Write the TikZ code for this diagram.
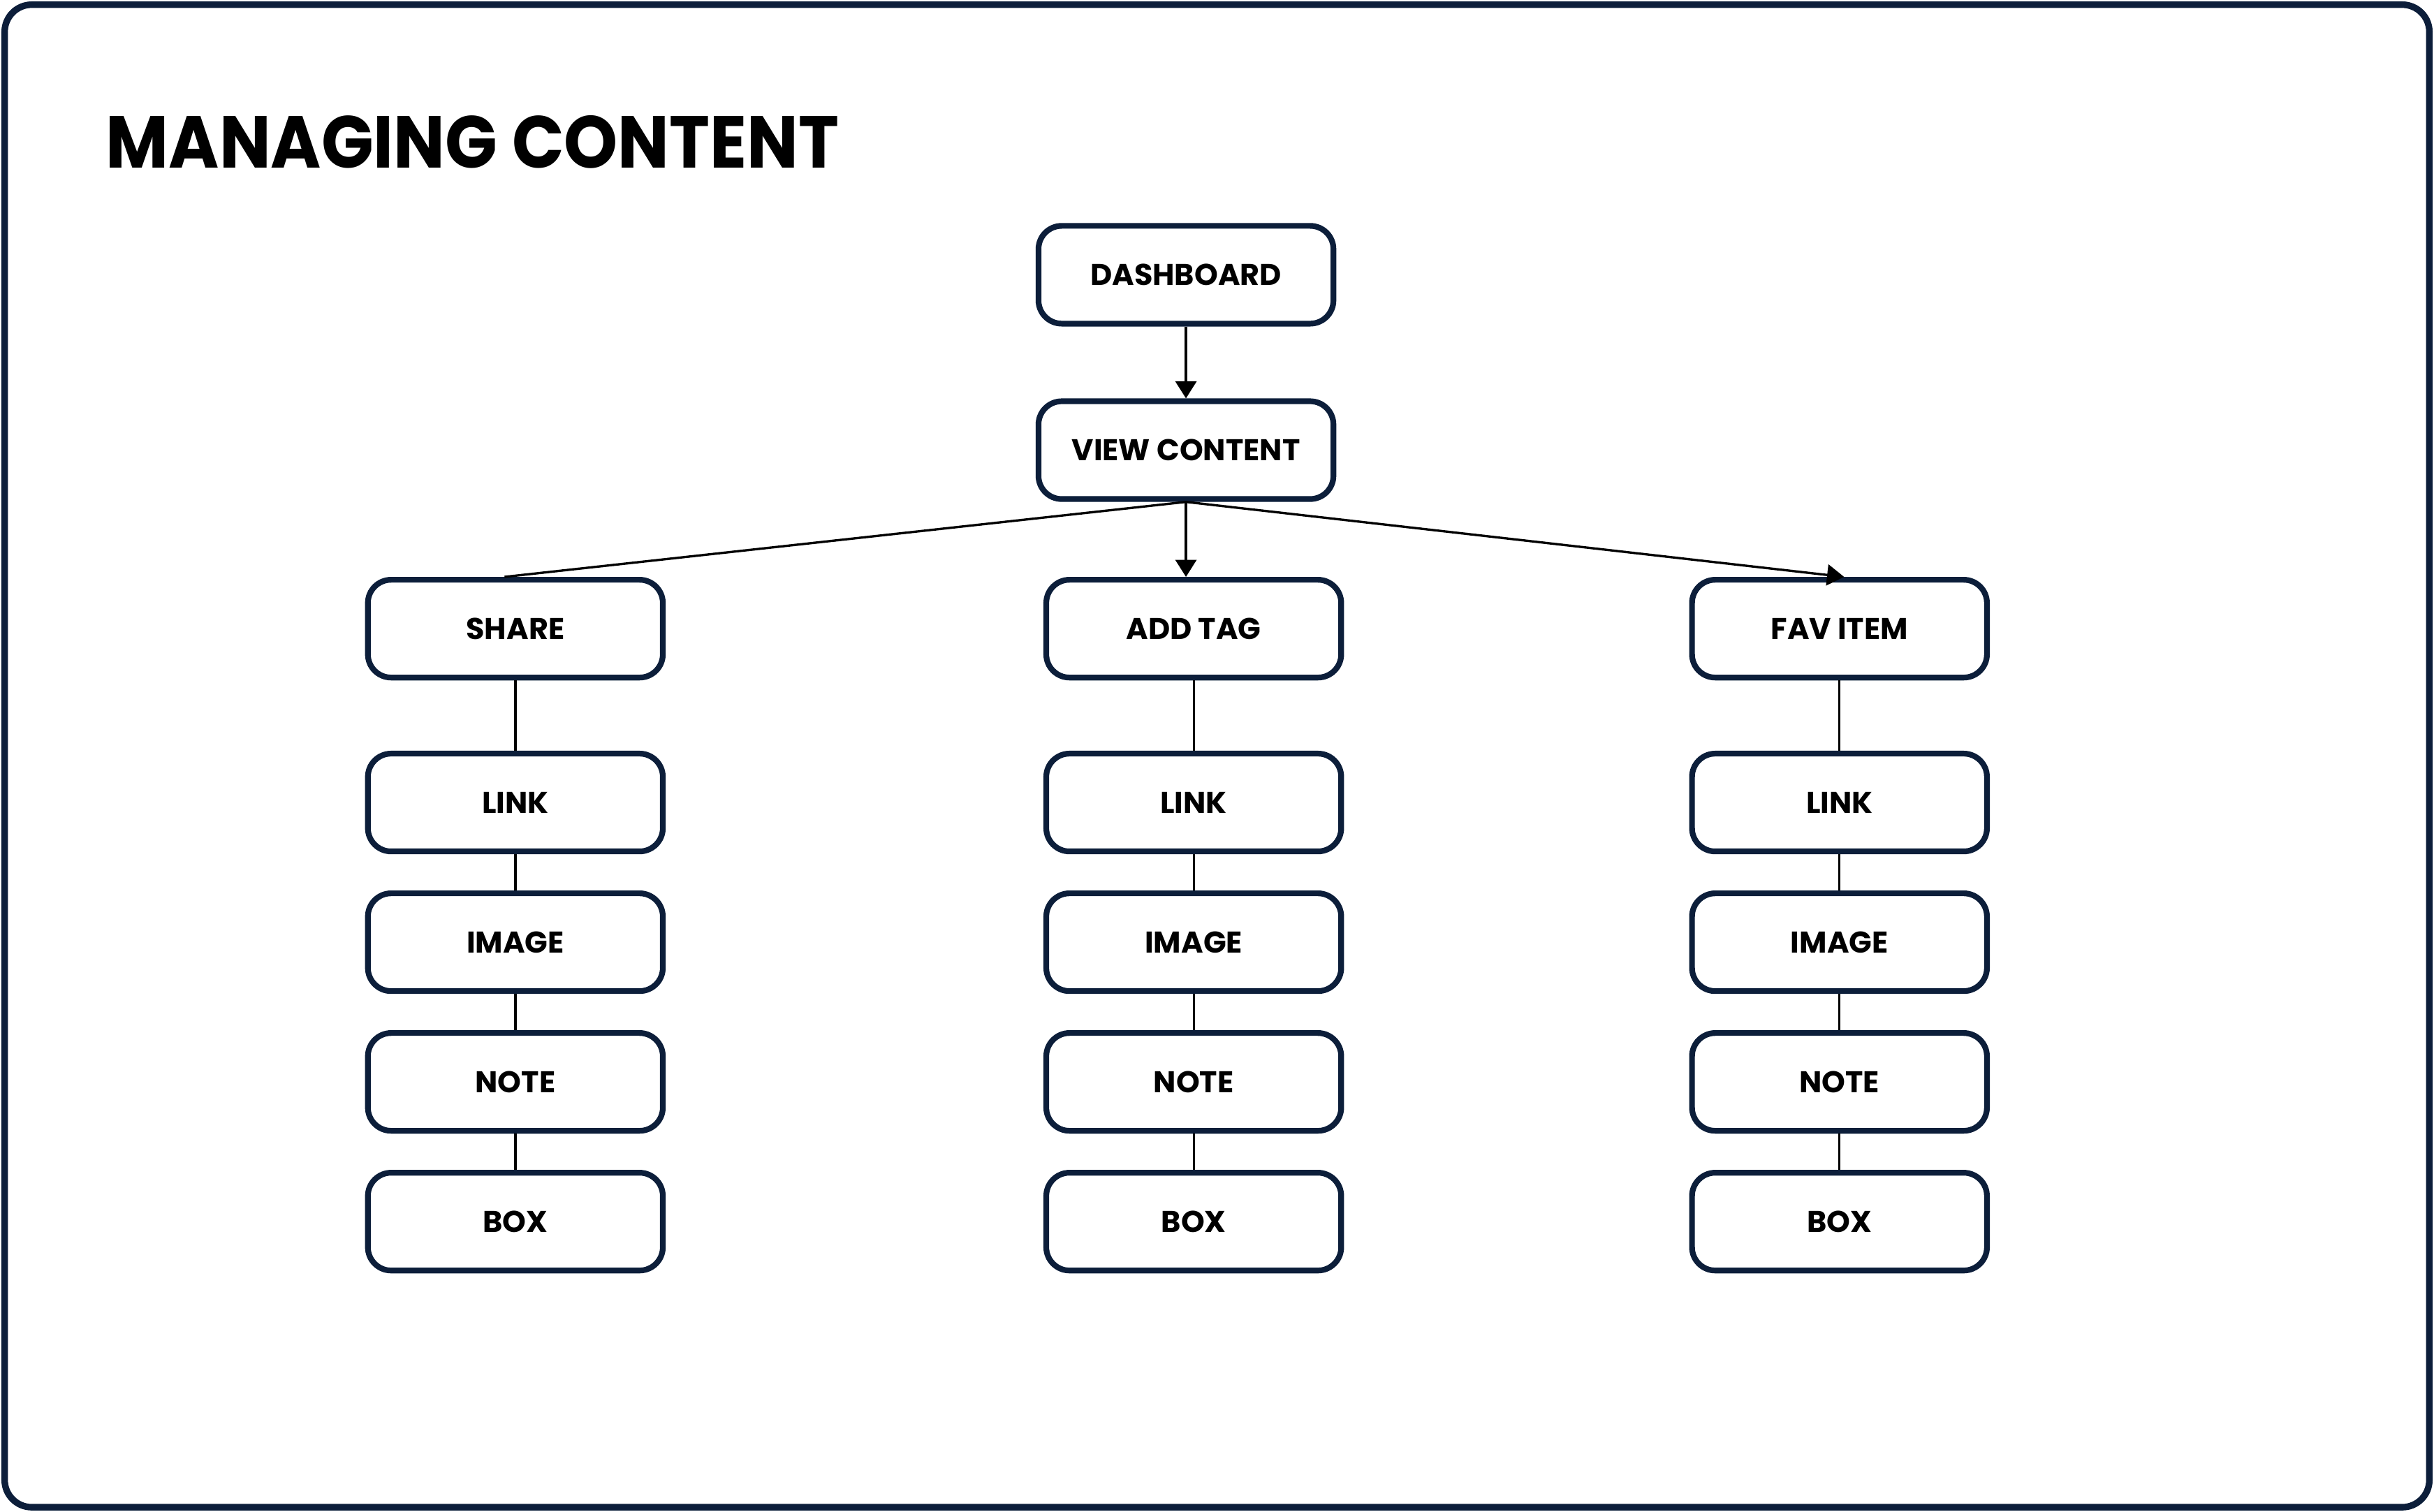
\documentclass[tikz,border=0pt]{standalone}
\usepackage{fontspec}
\setmainfont{Poppins}
\usetikzlibrary{arrows.meta}
\definecolor{navy}{RGB}{12,30,58}
\tikzset{
  itembox/.style={draw=navy, line width=2.1pt, rounded corners=0.3cm, fill=white,
    minimum width=3.8cm, minimum height=1.26cm, font=\bfseries\fontsize{11}{13}\selectfont},
  link/.style={line width=0.85pt, black},
  arrow/.style={link, -{Triangle[length=0.22cm,width=0.27cm]}}
}
\begin{document}
\begin{tikzpicture}[x=0.2mm, y=-0.2mm]
	\useasboundingbox (0,0) rectangle (1568,974);
	\draw[navy, line width=2.4pt, rounded corners=0.35cm] (3,3) rectangle (1565,971);
	\node[anchor=base west, inner sep=0pt, xscale=0.93, transform shape, font=\bfseries\fontsize{27}{30}\selectfont] (title) at (68,108) {MANAGING CONTENT};

	\node[itembox] (dash) at (764,177) {DASHBOARD};
	\node[itembox] (view) at (764,290) {VIEW CONTENT};
	\node[itembox] (share) at (332,405) {SHARE};
	\node[itembox] (addtag) at (769,405) {ADD TAG};
	\node[itembox] (fav) at (1185,405) {FAV ITEM};

	\foreach \c/\x in {share/332, addtag/769, fav/1185}
	  {
	      \node[itembox] (\c-link) at (\x,517) {LINK};
	      \node[itembox] (\c-image) at (\x,607) {IMAGE};
	      \node[itembox] (\c-note) at (\x,697) {NOTE};
	      \node[itembox] (\c-box) at (\x,787) {BOX};
	      \draw[link] (\c) -- (\c-link);
	      \draw[link] (\c-link) -- (\c-image);
	      \draw[link] (\c-image) -- (\c-note);
	      \draw[link] (\c-note) -- (\c-box);
	  }

	\draw[arrow] (dash) -- (view);
	\draw[link] (view.south) -- ([xshift=-0.14cm]share.north);
	\draw[arrow] (view.south) -- (view.south |- addtag.north);
	\draw[arrow] (view.south) -- ([xshift=0.06cm]fav.north);
    \end{tikzpicture}
\end{document}
